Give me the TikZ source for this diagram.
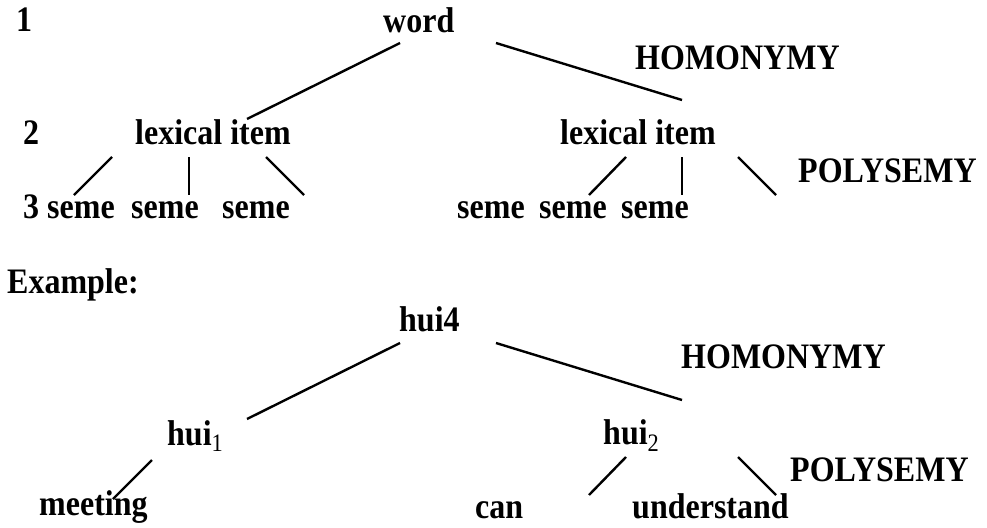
\documentclass[tikz,border=0pt]{standalone}
\usepackage{fontspec}
\setmainfont{Liberation Serif}
\newcommand\stretchtxt[1]{\scalebox{1}[1.12]{#1}}
\begin{document}
\begin{tikzpicture}[x=1pt,y=-1pt,
  lbl/.style={anchor=base west,inner sep=0pt,font=\fontsize{32}{36}\selectfont\bfseries},
  conn/.style={line width=2.4pt}]
\useasboundingbox (0,0) rectangle (987,527);
% ---- upper tree ----
\node[lbl] (n1) at (16,32) {\stretchtxt{1}};
\node[lbl] (word) at (383,33) {\stretchtxt{word}};
\node[lbl] (hom1) at (635,70) {\stretchtxt{HOMONYMY}};
\node[lbl] (n2) at (23,144) {\stretchtxt{2}};
\node[lbl] (lexL) at (135,144) {\stretchtxt{lexical item}};
\node[lbl] (lexR) at (560,144) {\stretchtxt{lexical item}};
\node[lbl] (pol1) at (798,182) {\stretchtxt{POLYSEMY}};
\node[lbl] (semeL1) at (23,218) {\stretchtxt{3 seme}};
\node[lbl] (semeL2) at (131,218) {\stretchtxt{seme}};
\node[lbl] (semeL3) at (222,218) {\stretchtxt{seme}};
\node[lbl] (semeR1) at (457,218) {\stretchtxt{seme}};
\node[lbl] (semeR2) at (539,218) {\stretchtxt{seme}};
\node[lbl] (semeR3) at (621,218) {\stretchtxt{seme}};
% connector ends
\coordinate (w1) at (400,43);  \coordinate (lL) at (247,119);
\coordinate (w2) at (496,43);  \coordinate (lR) at (682,100);
\coordinate (a1) at (112,157); \coordinate (a2) at (74,195);
\coordinate (b1) at (189,157); \coordinate (b2) at (189,195);
\coordinate (c1) at (266,157); \coordinate (c2) at (304,195);
\coordinate (d1) at (626,157); \coordinate (d2) at (589,195);
\coordinate (e1) at (682,157); \coordinate (e2) at (682,195);
\coordinate (f1) at (738,157); \coordinate (f2) at (776,195);
\draw[conn] (w1) -- (lL);
\draw[conn] (w2) -- (lR);
\draw[conn] (a1) -- (a2);
\draw[conn] (b1) -- (b2);
\draw[conn] (c1) -- (c2);
\draw[conn] (d1) -- (d2);
\draw[conn] (e1) -- (e2);
\draw[conn] (f1) -- (f2);
% ---- example ----
\node[lbl] (ex) at (7,293) {\stretchtxt{Example:}};
\node[lbl] (hui4) at (399,331) {\stretchtxt{hui4}};
\node[lbl] (hom2) at (681,368) {\stretchtxt{HOMONYMY}};
\node[lbl] (hui1) at (167,445) {\stretchtxt{hui\textsubscript{\mdseries 1}}};
\node[lbl] (hui2) at (603,444) {\stretchtxt{hui\textsubscript{\mdseries 2}}};
\node[lbl] (pol2) at (790,481) {\stretchtxt{POLYSEMY}};
\node[lbl] (meet) at (39,515) {\stretchtxt{meeting}};
\node[lbl] (can) at (475,518) {\stretchtxt{can}};
\node[lbl] (und) at (632,518) {\stretchtxt{understand}};
\coordinate (h1) at (400,343); \coordinate (hL) at (247,419);
\coordinate (h2) at (496,343); \coordinate (hR) at (682,400);
\coordinate (m1) at (152,460); \coordinate (m2) at (113,499);
\coordinate (k1) at (626,457); \coordinate (k2) at (589,495);
\coordinate (u1) at (738,457); \coordinate (u2) at (776,495);
\draw[conn] (h1) -- (hL);
\draw[conn] (h2) -- (hR);
\draw[conn] (m1) -- (m2);
\draw[conn] (k1) -- (k2);
\draw[conn] (u1) -- (u2);
\end{tikzpicture}
\end{document}
